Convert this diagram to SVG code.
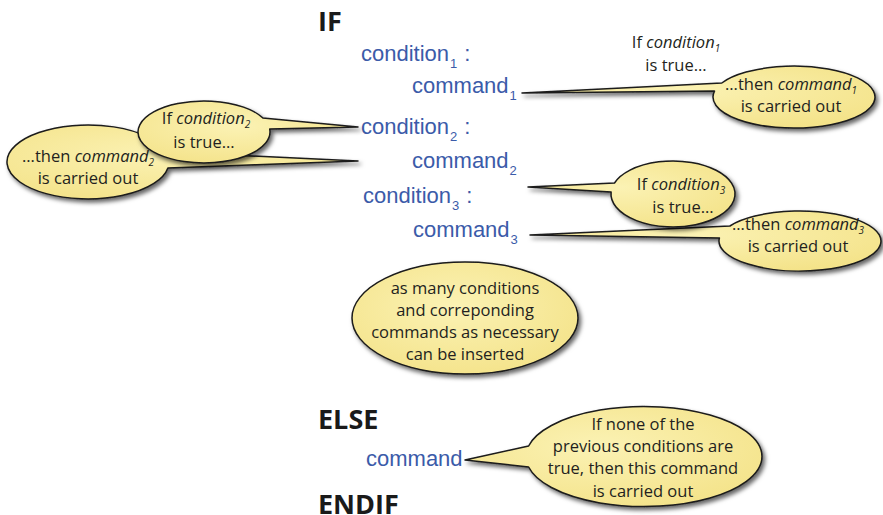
<svg xmlns="http://www.w3.org/2000/svg" width="883" height="515" viewBox="0 0 883 515">
<defs>
  <radialGradient id="bub" cx="0.45" cy="0.4" r="0.65">
    <stop offset="0" stop-color="#fbf2b4"/>
    <stop offset="1" stop-color="#f4e38a"/>
  </radialGradient>
  <filter id="sh" x="-10%" y="-20%" width="125%" height="150%">
    <feDropShadow dx="2.5" dy="3" stdDeviation="2.2" flood-color="#000" flood-opacity="0.6"/>
  </filter>
</defs>
<style>
  .kw { font-family: "Open Sans", "Liberation Sans", sans-serif; font-weight: bold; font-size: 27px; fill: #1a1a1a; }
  .code { font-family: "Liberation Sans", Arial, sans-serif; font-size: 22px; fill: #3b5ba9; }
  .sub { font-size: 13px; fill: #3b5ba9; }
  .bubble { fill: url(#bub); stroke: #1a1a1a; stroke-width: 1.5; stroke-linejoin: round; filter: url(#sh); }
  .note { font-family: "Open Sans", "Noto Sans", sans-serif; font-size: 16.5px; fill: #231f20; text-anchor: middle; }
  .it { font-style: italic; }
  .nsub { font-size: 10px; font-style: italic; }
</style>

<g id="code">
  <text class="kw" x="318" y="31">IF</text>
  <text class="code" x="361" y="61">condition<tspan class="sub" dx="1" dy="7">1</tspan><tspan dx="7" dy="-7">:</tspan></text>
  <text class="code" x="412" y="93">command<tspan class="sub" dx="1" dy="7">1</tspan></text>
  <text class="code" x="361" y="134">condition<tspan class="sub" dx="1" dy="7">2</tspan><tspan dx="7" dy="-7">:</tspan></text>
  <text class="code" x="412" y="168">command<tspan class="sub" dx="1" dy="7">2</tspan></text>
  <text class="code" x="363" y="203">condition<tspan class="sub" dx="1" dy="7">3</tspan><tspan dx="7" dy="-7">:</tspan></text>
  <text class="code" x="413" y="237">command<tspan class="sub" dx="1" dy="7">3</tspan></text>
  <text class="kw" x="318" y="429">ELSE</text>
  <text class="code" x="366" y="466">command</text>
  <text class="kw" x="318" y="514">ENDIF</text>
</g>

<g id="note-cond1">
  <text class="note" x="676" y="48">If <tspan class="it">condition</tspan><tspan class="nsub" dy="4">1</tspan></text>
  <text class="note" x="676" y="71">is true...</text>
</g>

<g id="callout-cmd1">
  <path class="bubble" d="M 721.8 83 A 81 31 0 1 1 714.5 91.1 L 522 93 Z"/>
  <text class="note" x="791" y="90">...then <tspan class="it">command</tspan><tspan class="nsub" dy="4">1</tspan></text>
  <text class="note" x="791" y="112">is carried out</text>
</g>

<g id="callout-cmd2">
  <path class="bubble" d="M 167.9 168 A 81 37 0 1 1 166 152 L 358 161 Z"/>
  <text class="note" x="88" y="162">...then <tspan class="it">command</tspan><tspan class="nsub" dy="4">2</tspan></text>
  <text class="note" x="88" y="184">is carried out</text>
</g>

<g id="callout-cond2">
  <path class="bubble" d="M 269.7 129 A 66 31 0 1 1 262.9 118 L 358 127 Z"/>
  <text class="note" x="206" y="124">If <tspan class="it">condition</tspan><tspan class="nsub" dy="4">2</tspan></text>
  <text class="note" x="204" y="148">is true...</text>
</g>

<g id="callout-cmd3">
  <path class="bubble" d="M 729.9 226 A 81 30 0 1 1 719.4 238 L 530 235 Z"/>
  <text class="note" x="798" y="230">...then <tspan class="it">command</tspan><tspan class="nsub" dy="4">3</tspan></text>
  <text class="note" x="798" y="252">is carried out</text>
</g>

<g id="callout-cond3">
  <path class="bubble" d="M 614.5 183 A 62 33 0 1 1 611.1 192 L 528 187 Z"/>
  <text class="note" x="681" y="190">If <tspan class="it">condition</tspan><tspan class="nsub" dy="4">3</tspan></text>
  <text class="note" x="683" y="213">is true...</text>
</g>

<g id="note-many">
  <ellipse class="bubble" cx="465" cy="318" rx="113" ry="56"/>
  <text class="note" x="465" y="294">as many conditions</text>
  <text class="note" x="465" y="316">and correponding</text>
  <text class="note" x="465" y="338">commands as necessary</text>
  <text class="note" x="465" y="360">can be inserted</text>
</g>

<g id="callout-else">
  <path class="bubble" d="M 528.6 446 A 118 50 0 1 1 528.6 467 L 465 460 Z"/>
  <text class="note" x="643" y="430">If none of the</text>
  <text class="note" x="643" y="452">previous conditions are</text>
  <text class="note" x="643" y="474">true, then this command</text>
  <text class="note" x="643" y="497">is carried out</text>
</g>

<g id="connectors"></g>
</svg>
